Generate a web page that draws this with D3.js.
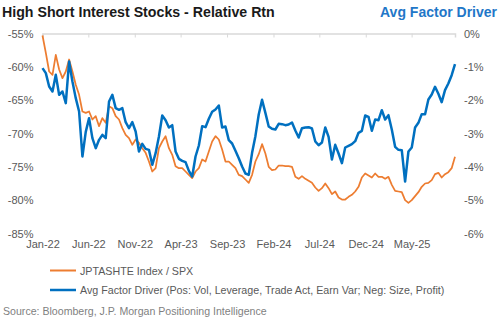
<!DOCTYPE html>
<html><head><meta charset="utf-8">
<script src="https://cdn.jsdelivr.net/npm/d3@7/dist/d3.min.js"></script>
<style>body{margin:0;background:#fff}svg{display:block;font-family:"Liberation Sans",Arial,sans-serif}</style>
</head><body><svg id="c" width="500" height="321"></svg>
<script>
// ---- data ----
const startDate = "2022-01-01", endDate = "2025-09-21";
const tickLabels = ["Jan-22","Jun-22","Nov-22","Apr-23","Sep-23","Feb-24","Jul-24","Dec-24","May-25"];
const leftTicks = [-55,-60,-65,-70,-75,-80,-85];
const rightTicks = [0,-1,-2,-3,-4,-5,-6];
// JPTASHTE Index / SPX (%), left axis
const orange = [-55.3,-57.9,-60.7,-61.2,-58.2,-60.4,-61.7,-60.7,-58.9,-60.7,-62.7,-64.2,-66.7,-66.9,-66.7,-67.9,-67.4,-68.9,-67.7,-68.4,-65.9,-66.2,-67.4,-67.9,-69.2,-70.2,-70.7,-71.7,-70.9,-71.4,-72.2,-72.9,-74.2,
 -75.7,-75.2,-72.2,-71.2,-70.4,-72.2,-73.2,-74.9,-75.2,-75.2,-75.7,-76.2,-76.7,-75.7,-75.2,-73.9,-74.2,-72.7,-71.2,-70.4,-70.9,-72.4,-74.2,-74.2,-74.7,-75.2,-76.2,-76.4,-76.9,-77.4,-76.2,-74.2,
 -73.1,-71.6,-73.0,-75.0,-75.5,-75.4,-74.8,-74.8,-74.9,-74.9,-75.0,-76.5,-76.8,-76.4,-76.8,-77.1,-77.4,-78.1,-78.6,-78.2,-77.5,-78.2,-79.1,-78.7,-79.6,-79.9,-79.9,-79.5,-79.2,-78.7,-78.0,
 -76.6,-76.0,-76.3,-76.6,-76.0,-76.5,-76.5,-76.8,-76.5,-77.7,-78.6,-78.7,-78.8,-80.0,-80.4,-80.0,-79.4,-78.8,-78.0,-77.5,-77.4,-77.0,-76.1,-75.9,-76.6,-76.1,-75.8,-75.2,-73.5];
// Avg Factor Driver (%), right axis
const blue = [-1.04,-1.19,-1.59,-1.74,-1.24,-1.84,-1.74,-2.09,-0.84,-1.44,-1.94,-2.34,-3.69,-2.95,-2.54,-3.14,-3.44,-3.19,-3.04,-3.14,-2.04,-1.84,-2.24,-2.29,-2.24,-2.66,-2.84,-2.66,-2.94,-3.54,-3.31,-3.46,-3.49,
 -3.94,-3.59,-3.09,-2.46,-2.60,-2.82,-2.75,-3.54,-3.76,-3.82,-3.86,-4.12,-4.29,-3.69,-3.36,-2.78,-2.81,-2.56,-2.35,-2.28,-2.16,-2.82,-2.79,-3.20,-3.30,-3.52,-3.74,-3.99,-4.20,-4.24,-3.58,-3.08,
 -2.43,-1.99,-2.38,-2.79,-2.86,-2.88,-2.71,-2.72,-2.75,-2.73,-2.67,-2.91,-3.12,-2.84,-2.82,-2.81,-2.85,-3.24,-3.35,-3.27,-2.82,-3.10,-3.78,-3.34,-3.60,-3.89,-3.42,-3.37,-3.32,-3.23,-2.98,
 -2.92,-2.46,-2.50,-2.92,-2.58,-2.60,-2.30,-2.58,-2.45,-2.88,-3.40,-3.49,-3.50,-4.44,-3.54,-3.42,-2.82,-2.68,-2.42,-2.42,-1.98,-1.83,-1.60,-1.81,-2.06,-1.70,-1.50,-1.25,-0.92];
const seriesNames = ["JPTASHTE Index / SPX","Avg Factor Driver (Pos: Vol, Leverage, Trade Act, Earn Var; Neg: Size, Profit)"];

// ---- layout ----
const svg = d3.select("#c");
const X0 = 42.5, X1 = 455, Y0 = 33.5, Y1 = 233.5;
const parse = d3.utcParse("%Y-%m-%d");
const t0 = parse(startDate), t1 = parse(endDate);
const n = orange.length;
const dates = d3.range(n).map(i => new Date(+t0 + (t1 - t0) * i / (n - 1)));
const x = d3.scaleUtc().domain([t0, t1]).range([X0, X1]);
const yL = d3.scaleLinear().domain([-85, -55]).range([Y1, Y0]);
const yR = d3.scaleLinear().domain([-6, 0]).range([Y1, Y0]);
const fmtTick = d3.utcFormat("%b-%y");
const tickDates = tickLabels.map(s => d3.utcParse("%b-%y")(s));
const FONT = "Liberation Sans, Arial, sans-serif";

// top axis line with downward ticks (category axis crosses at max)
const ax = svg.append("g").attr("transform", `translate(0,${Y0})`)
  .call(d3.axisBottom(x).tickValues(tickDates).tickSize(4).tickFormat(""));
ax.select(".domain").attr("stroke", "#d9d9d9").attr("stroke-width", 1.5);
ax.selectAll(".tick line").attr("stroke", "#d9d9d9").attr("stroke-width", 1);

// bottom date labels
const bx = svg.append("g").attr("transform", `translate(0,${Y1})`)
  .call(d3.axisBottom(x).tickValues(tickDates).tickSize(0).tickPadding(7).tickFormat(fmtTick));
bx.select(".domain").remove();
bx.selectAll("text").attr("fill", "#595959").attr("font-size", 11).attr("font-family", FONT);

// left axis
const la = svg.append("g").attr("transform", `translate(${X0 - 2},0)`)
  .call(d3.axisLeft(yL).tickValues(leftTicks).tickSize(0).tickPadding(7).tickFormat(d => d + "%"));
la.select(".domain").remove();
la.selectAll("text").attr("fill", "#595959").attr("font-size", 11).attr("font-family", FONT);

// right axis
const ra = svg.append("g").attr("transform", `translate(${X1 + 2},0)`)
  .call(d3.axisRight(yR).tickValues(rightTicks).tickSize(0).tickPadding(7).tickFormat(d => d + "%"));
ra.select(".domain").remove();
ra.selectAll("text").attr("fill", "#595959").attr("font-size", 11).attr("font-family", FONT);

// lines
const lo = d3.line().x((d, i) => x(dates[i])).y(d => yL(d));
const lb = d3.line().x((d, i) => x(dates[i])).y(d => yR(d));
svg.append("path").datum(orange).attr("d", lo).attr("fill", "none")
  .attr("stroke", "#ED7D31").attr("stroke-width", 1.75).attr("stroke-linejoin", "round");
svg.append("path").datum(blue).attr("d", lb).attr("fill", "none")
  .attr("stroke", "#0070C0").attr("stroke-width", 2.5).attr("stroke-linejoin", "round");

// titles
svg.append("text").attr("x", 2).attr("y", 17).attr("font-size", 14.2).attr("font-weight", "bold")
  .attr("fill", "#1a1a1a").text("High Short Interest Stocks - Relative Rtn");
svg.append("text").attr("x", 497).attr("y", 17).attr("text-anchor", "end").attr("font-size", 14)
  .attr("font-weight", "bold").attr("fill", "#1F77C8").text("Avg Factor Driver");

// legend
const colors = ["#ED7D31", "#0070C0"];
const widths = [2, 2.5];
seriesNames.forEach((s, i) => {
  const yy = 270.5 + i * 19.5;
  svg.append("line").attr("x1", 50).attr("x2", 76).attr("y1", yy).attr("y2", yy)
    .attr("stroke", colors[i]).attr("stroke-width", widths[i]);
  svg.append("text").attr("x", 80).attr("y", yy + 4).attr("font-size", 10.7).attr("fill", "#595959").text(s);
});

// source
svg.append("text").attr("x", 3).attr("y", 315).attr("font-size", 10.6).attr("fill", "#7f7f7f")
  .text("Source: Bloomberg, J.P. Morgan Positioning Intelligence");
</script></body></html>
